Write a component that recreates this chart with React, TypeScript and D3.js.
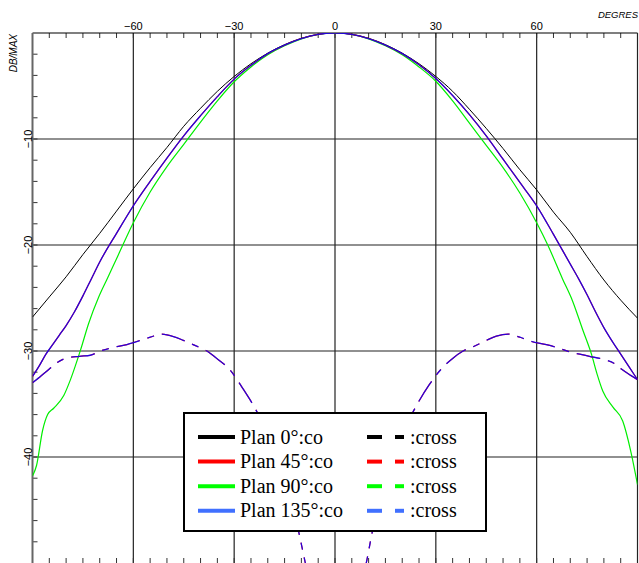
import { useRef, useEffect } from "react";
import * as d3 from "d3";

type Pt = [number, number];

// degrees, dB
const plan0Co: Pt[] = [
  [-90, -26.8], [-85, -24.9], [-80, -23.0], [-75, -20.9], [-70, -18.9], [-65, -16.8],
  [-60, -14.7], [-55, -12.7], [-50, -10.8], [-45, -8.8], [-40, -7.1], [-35, -5.5],
  [-30, -4.1], [-25, -2.9], [-20, -1.9], [-15, -1.1], [-10, -0.5], [-5, -0.12], [0, 0],
  [5, -0.12], [10, -0.5], [15, -1.1], [20, -1.9], [25, -2.9], [30, -4.1], [35, -5.5],
  [40, -7.2], [45, -9.0], [50, -10.9], [55, -12.9], [60, -14.8], [65, -16.9], [70, -18.8],
  [75, -21.1], [80, -23.3], [85, -25.2], [90, -26.9],
];

const plan45Co: Pt[] = [
  [-90, -32.4], [-88, -31.4], [-86, -30.3], [-84, -29.4], [-82, -28.5], [-80, -27.6],
  [-77.5, -26.3], [-75, -24.8], [-72.5, -23.2], [-70, -21.6], [-65, -18.9], [-60, -16.3],
  [-55, -14.0], [-50, -11.8], [-45, -9.7], [-40, -7.8], [-35, -6.0], [-30, -4.35],
  [-25, -3.05], [-20, -1.95], [-15, -1.15], [-10, -0.52], [-5, -0.13], [0, 0],
  [5, -0.13], [10, -0.52], [15, -1.15], [20, -1.95], [25, -3.0], [30, -4.3], [35, -5.9],
  [40, -7.7], [45, -9.7], [50, -11.9], [55, -14.1], [60, -16.3], [65, -19.0], [70, -21.8],
  [72.5, -23.2], [75, -24.7], [77.5, -26.3], [80, -27.8], [82.5, -29.1], [85, -30.3],
  [87.5, -31.5], [90, -32.7],
];
const plan135Co: Pt[] = plan45Co;

const plan90Co: Pt[] = [
  [-90, -41.8], [-88.8, -40.8], [-87, -37.5], [-85.5, -36.0], [-83.7, -35.4], [-80.7, -34.2],
  [-78.7, -32.7], [-75.7, -29.9], [-73.3, -27.4], [-70.3, -24.9], [-67.8, -23.2], [-65, -21.3],
  [-60, -17.9], [-55, -15.0], [-50, -12.6], [-45, -10.5], [-40, -8.4], [-35, -6.4],
  [-30, -4.6], [-25, -3.2], [-20, -2.05], [-15, -1.2], [-10, -0.55], [-5, -0.14], [0, 0],
  [5, -0.14], [10, -0.55], [15, -1.2], [20, -2.05], [25, -3.2], [30, -4.55], [35, -6.4],
  [40, -8.5], [45, -10.6], [50, -12.7], [55, -15.1], [60, -17.9], [63.3, -20], [67.7, -23.2],
  [70.7, -25.3], [73.7, -28.0], [76.3, -30.3], [78, -32.2], [79.7, -33.8], [82.7, -35.3],
  [85.6, -36.6], [88.1, -39.6], [90, -42.6],
];

const plan45Cross: Pt[] = [
  [-90, -33.0], [-88.8, -32.7], [-85, -31.7], [-82.7, -31.1], [-80.2, -30.7], [-76, -30.5],
  [-72.8, -30.4], [-69.8, -30.0], [-65, -29.6], [-61.9, -29.4], [-59.9, -29.2], [-55, -28.7],
  [-51.5, -28.4], [-47.5, -28.7], [-45.1, -29.0], [-41.5, -29.5], [-38.1, -30.0],
  [-35.6, -30.6], [-31.2, -31.8], [-27.5, -33.5], [-23.8, -35.4], [-20, -37.8], [-15, -41.6],
  [-10.7, -47.2], [-8.9, -49.9], [-6, -54], [-3, -60], [0, -68], [3, -60], [6, -54],
  [9.5, -49.7], [11, -47.2], [15, -41.6], [20, -37.8], [23.8, -35.4], [28, -33.2],
  [32.2, -31.5], [35, -30.7], [38.1, -30.0], [41.1, -29.6], [45, -29.0], [48, -28.6],
  [51.5, -28.4], [55, -28.7], [58.4, -29.1], [62.9, -29.4], [65.3, -29.6], [70, -30.1],
  [72.8, -30.3], [75.7, -30.5], [80, -30.8], [83.2, -31.2], [85.2, -31.7], [88, -32.3],
  [90, -32.7],
];
const plan135Cross: Pt[] = plan45Cross;

const xTicks = [-60, -30, 0, 30, 60];
const yTicks = [-10, -20, -30, -40];

const legendItems = [
  { label: "Plan 0°:co", color: "#000000" },
  { label: "Plan 45°:co", color: "#ff0000" },
  { label: "Plan 90°:co", color: "#00ff00" },
  { label: "Plan 135°:co", color: "#4070ff" },
];

export default function App() {
  const svgRef = useRef<SVGSVGElement>(null);

  useEffect(() => {
    if (!svgRef.current) return;
    const svg = d3.select(svgRef.current);
    svg.selectAll("*").remove();

    const x = d3.scaleLinear().domain([-90, 90]).range([32.5, 637.5]);
    const y = d3.scaleLinear().domain([0, -50]).range([33, 563]);
    const [x0, x1] = x.range();
    const [y0, y1] = y.range();

    svg.append("defs")
      .append("clipPath")
      .attr("id", "plot")
      .append("rect")
      .attr("x", x0)
      .attr("y", y0)
      .attr("width", x1 - x0)
      .attr("height", y1 - y0);

    // grid
    const grid = svg.append("g").attr("stroke", "#222").attr("stroke-width", 1.2);
    xTicks.forEach((t) =>
      grid.append("line").attr("x1", x(t)).attr("x2", x(t)).attr("y1", y0).attr("y2", y1)
    );
    yTicks.forEach((t) =>
      grid.append("line").attr("x1", x0).attr("x2", x1).attr("y1", y(t)).attr("y2", y(t))
    );

    // minor ticks
    const ticks = svg.append("g").attr("stroke", "#333").attr("stroke-width", 1);
    d3.range(-85, 90, 5).forEach((t) => {
      ticks.append("line").attr("x1", x(t)).attr("x2", x(t)).attr("y1", y0).attr("y2", y0 + 5);
      ticks.append("line").attr("x1", x(t)).attr("x2", x(t)).attr("y1", y1 - 5).attr("y2", y1);
    });
    d3.range(-2, -50, -2).forEach((t) => {
      ticks.append("line").attr("x1", x0).attr("x2", x0 + 5).attr("y1", y(t)).attr("y2", y(t));
    });

    // frame
    svg.append("line").attr("x1", x0).attr("x2", x1).attr("y1", y0).attr("y2", y0)
      .attr("stroke", "#000").attr("stroke-width", 1.2);
    svg.append("line").attr("x1", x0).attr("x2", x0).attr("y1", y0).attr("y2", y1)
      .attr("stroke", "#666").attr("stroke-width", 2);
    svg.append("line").attr("x1", x1).attr("x2", x1).attr("y1", y0).attr("y2", y1)
      .attr("stroke", "#222").attr("stroke-width", 1.2);

    // labels
    svg.append("g")
      .selectAll("text")
      .data(xTicks)
      .join("text")
      .attr("x", (d) => x(d))
      .attr("y", y0 - 3)
      .attr("text-anchor", "middle")
      .attr("font-family", "Liberation Sans, Arial, sans-serif")
      .attr("font-size", 11)
      .text((d) => (d < 0 ? "\u2212" + Math.abs(d) : String(d)));

    svg.append("g")
      .selectAll("text")
      .data(yTicks)
      .join("text")
      .attr("transform", (d) => `translate(${x0 - 1},${y(d)}) rotate(-90)`)
      .attr("text-anchor", "middle")
      .attr("font-family", "Liberation Sans, Arial, sans-serif")
      .attr("font-size", 11)
      .text((d) => "\u2212" + Math.abs(d));

    svg.append("text")
      .attr("transform", `translate(17,${y0 + 1}) rotate(-90)`)
      .attr("text-anchor", "end")
      .attr("font-family", "Liberation Sans, Arial, sans-serif")
      .attr("font-style", "italic")
      .attr("font-size", 10)
      .text("DB/MAX");

    svg.append("text")
      .attr("x", 638)
      .attr("y", 18)
      .attr("text-anchor", "end")
      .attr("font-family", "Liberation Sans, Arial, sans-serif")
      .attr("font-style", "italic")
      .attr("font-size", 9.5)
      .text("DEGRES");

    // curves
    const line = d3
      .line<Pt>()
      .x((d) => x(d[0]))
      .y((d) => y(d[1]))
      .curve(d3.curveMonotoneX);

    const curves = svg.append("g").attr("clip-path", "url(#plot)").attr("fill", "none");
    const series: { data: Pt[]; color: string; width: number; dash?: string; opacity?: number }[] = [
      { data: plan0Co, color: "#000000", width: 1 },
      { data: plan90Co, color: "#00ee00", width: 1.2 },
      { data: plan45Co, color: "#ff0000", width: 1.2 },
      { data: plan135Co, color: "#0000ff", width: 1.3, opacity: 0.85 },
      { data: plan45Cross, color: "#ff0000", width: 1.2, dash: "24 8 7 8" },
      { data: plan135Cross, color: "#0000ff", width: 1.3, dash: "24 8 7 8", opacity: 0.85 },
    ];
    series.forEach((s) => {
      curves.append("path")
        .datum(s.data)
        .attr("stroke", s.color)
        .attr("stroke-width", s.width)
        .attr("stroke-opacity", s.opacity ?? 1)
        .attr("stroke-dasharray", s.dash ?? null)
        .attr("d", line);
    });

    // legend
    const lg = svg.append("g");
    lg.append("rect")
      .attr("x", 184)
      .attr("y", 413)
      .attr("width", 302)
      .attr("height", 118)
      .attr("fill", "#fff")
      .attr("stroke", "#000")
      .attr("stroke-width", 2);
    legendItems.forEach((item, i) => {
      const cy = 437 + i * 24.6;
      lg.append("line").attr("x1", 198).attr("x2", 235).attr("y1", cy).attr("y2", cy)
        .attr("stroke", item.color).attr("stroke-width", 4);
      lg.append("text")
        .attr("x", 240)
        .attr("y", cy + 6.5)
        .attr("font-family", "Liberation Serif, Times New Roman, serif")
        .attr("font-size", 20)
        .text(item.label);
      lg.append("line").attr("x1", 367).attr("x2", 382).attr("y1", cy).attr("y2", cy)
        .attr("stroke", item.color).attr("stroke-width", 4);
      lg.append("line").attr("x1", 395).attr("x2", 404).attr("y1", cy).attr("y2", cy)
        .attr("stroke", item.color).attr("stroke-width", 4);
      lg.append("text")
        .attr("x", 410)
        .attr("y", cy + 6.5)
        .attr("font-family", "Liberation Serif, Times New Roman, serif")
        .attr("font-size", 20)
        .text(":cross");
    });
  }, []);

  return (
    <svg
      ref={svgRef}
      width={639}
      height={563}
      style={{ position: "absolute", left: 0, top: 0, background: "#fff" }}
    />
  );
}
